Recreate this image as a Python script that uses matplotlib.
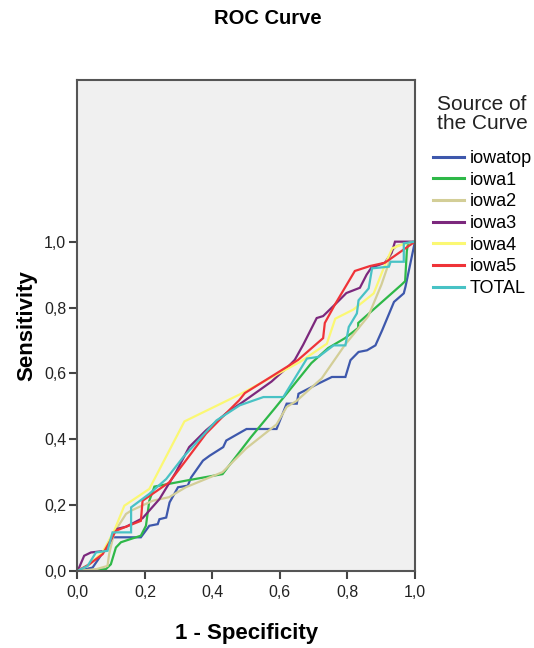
import matplotlib
matplotlib.use("Agg")
import matplotlib.pyplot as plt
from matplotlib.ticker import FuncFormatter

# ROC points (1 - specificity, sensitivity)
iowatop_x = [0, 0.045, 0.069, 0.104, 0.188, 0.213, 0.238, 0.243, 0.263, 0.273, 0.298, 0.327, 0.337,
             0.372, 0.392, 0.432, 0.441, 0.501, 0.590, 0.620, 0.650, 0.655, 0.714, 0.754, 0.794,
             0.809, 0.833, 0.858, 0.883, 0.903, 0.938, 0.967, 0.972, 1.0]
iowatop_y = [0, 0.01, 0.046, 0.102, 0.102, 0.137, 0.142, 0.157, 0.162, 0.208, 0.254, 0.259, 0.284,
             0.335, 0.350, 0.376, 0.396, 0.431, 0.431, 0.508, 0.508, 0.538, 0.569, 0.589, 0.589,
             0.640, 0.665, 0.670, 0.685, 0.731, 0.817, 0.843, 0.863, 1.0]

iowa1_x = [0, 0.084, 0.099, 0.114, 0.129, 0.188, 0.203, 0.213, 0.228, 0.321, 0.430, 0.514, 0.585,
           0.693, 0.743, 0.793, 0.832, 0.832, 0.961, 0.971, 0.976, 0.98, 1.0]
iowa1_y = [0, 0.005, 0.02, 0.071, 0.087, 0.107, 0.137, 0.213, 0.256, 0.274, 0.294, 0.406, 0.494,
           0.631, 0.677, 0.707, 0.738, 0.753, 0.870, 0.880, 0.971, 0.997, 1.0]

iowa2_x = [0, 0.055, 0.089, 0.094, 0.109, 0.144, 0.159, 0.223, 0.272, 0.321, 0.430, 0.50, 0.59,
           0.62, 0.649, 0.724, 0.793, 0.862, 0.901, 0.921, 0.931, 0.946, 0.98, 1.0]
iowa2_y = [0, 0.005, 0.015, 0.051, 0.117, 0.173, 0.183, 0.213, 0.224, 0.254, 0.300, 0.372, 0.445,
           0.498, 0.516, 0.585, 0.687, 0.774, 0.870, 0.930, 0.971, 0.987, 0.997, 1.0]

iowa3_x = [0, 0.005, 0.02, 0.04, 0.084, 0.114, 0.144, 0.193, 0.243, 0.292, 0.331, 0.381, 0.44,
           0.49, 0.575, 0.625, 0.644, 0.669, 0.709, 0.728, 0.763, 0.797, 0.837, 0.857, 0.871,
           0.911, 0.931, 0.941, 1.0]
iowa3_y = [0, 0.01, 0.046, 0.056, 0.061, 0.127, 0.134, 0.160, 0.218, 0.300, 0.376, 0.427, 0.478,
           0.513, 0.575, 0.621, 0.641, 0.687, 0.768, 0.774, 0.809, 0.844, 0.860, 0.900, 0.921,
           0.936, 0.966, 1.0, 1.0]

iowa4_x = [0, 0.03, 0.074, 0.109, 0.139, 0.213, 0.317, 0.481, 0.660, 0.739, 0.764, 0.818, 0.878,
           0.913, 0.933, 0.967, 1.0]
iowa4_y = [0, 0.015, 0.056, 0.122, 0.198, 0.249, 0.454, 0.536, 0.635, 0.690, 0.766, 0.794, 0.843,
           0.934, 0.980, 0.993, 1.0]

iowa5_x = [0, 0.035, 0.075, 0.114, 0.188, 0.193, 0.272, 0.321, 0.381, 0.430, 0.479, 0.496, 0.654,
           0.728, 0.733, 0.763, 0.822, 0.867, 0.911, 1.0]
iowa5_y = [0, 0.02, 0.051, 0.122, 0.152, 0.213, 0.269, 0.335, 0.417, 0.468, 0.518, 0.540, 0.641,
           0.707, 0.753, 0.809, 0.911, 0.926, 0.936, 1.0]

total_x = [0, 0.03, 0.055, 0.089, 0.104, 0.159, 0.159, 0.213, 0.263, 0.313, 0.412, 0.481, 0.551,
           0.610, 0.680, 0.714, 0.759, 0.794, 0.804, 0.828, 0.833, 0.863, 0.873, 0.923, 0.928,
           0.967, 0.967, 1.0]
total_y = [0, 0.015, 0.056, 0.061, 0.117, 0.117, 0.193, 0.234, 0.279, 0.345, 0.457, 0.503, 0.528,
           0.528, 0.645, 0.650, 0.685, 0.685, 0.741, 0.782, 0.822, 0.858, 0.919, 0.924, 0.939,
           0.939, 0.995, 1.0]

names = ["iowatop", "iowa1", "iowa2", "iowa3", "iowa4", "iowa5", "TOTAL"]
colors = ["#3E58AC", "#2EB848", "#D3CE97", "#7C287D", "#FBF873", "#EF3338", "#48C2C5"]
series = [(iowatop_x, iowatop_y), (iowa1_x, iowa1_y), (iowa2_x, iowa2_y), (iowa3_x, iowa3_y),
          (iowa4_x, iowa4_y), (iowa5_x, iowa5_y), (total_x, total_y)]

plt.rcParams["font.family"] = ["Liberation Sans", "DejaVu Sans"]

W, H = 534, 648
fig = plt.figure(figsize=(W / 100, H / 100), dpi=100)
ax = fig.add_axes([0.145, 0.119, 0.632, 0.757])
ax.set_facecolor("#F0F0F0")

for (xs, ys), name, c in zip(series, names, colors):
    ax.plot(xs, ys, color=c, lw=1.6, label=name, solid_joinstyle="miter")

ax.set_xlim(0, 1)
ax.set_ylim(0, 1.49)
ticks = [0, 0.2, 0.4, 0.6, 0.8, 1.0]
ax.set_xticks(ticks)
ax.set_yticks(ticks)
fmt = FuncFormatter(lambda v, p: f"{v:.1f}".replace(".", ","))
ax.xaxis.set_major_formatter(fmt)
ax.yaxis.set_major_formatter(fmt)
ax.tick_params(direction="out", length=6, width=1.5, color="#444444", labelsize=11.5,
               labelcolor="#222222")
ax.tick_params(axis="x", pad=4)
ax.tick_params(axis="y", pad=2)
for s in ax.spines.values():
    s.set_color("#555555")
    s.set_linewidth(1.5)

ax.set_xlabel("1 - Specificity", fontsize=16, fontweight="bold", labelpad=17)
ax.set_ylabel("Sensitivity", fontsize=16, fontweight="bold", labelpad=5)
fig.text(0.502, 1 - 18 / H, "ROC Curve", ha="center", va="center", fontsize=14.5, fontweight="bold")

# legend placed to the right of the axes, title drawn separately
fig.text(482 / W, 1 - 114 / H, "Source of\nthe Curve", ha="center", va="center",
         fontsize=15, linespacing=1.05, color="#222222")
leg = ax.legend(loc="upper left", bbox_to_anchor=(433 / W, 1 - 150 / H),
                bbox_transform=fig.transFigure, frameon=False, fontsize=13,
                handlelength=1.7, handletextpad=0.35, labelspacing=0.26,
                borderpad=0.0, borderaxespad=0.0)
for line in leg.get_lines():
    line.set_linewidth(2.2)

fig.savefig("out.png", dpi=100)
